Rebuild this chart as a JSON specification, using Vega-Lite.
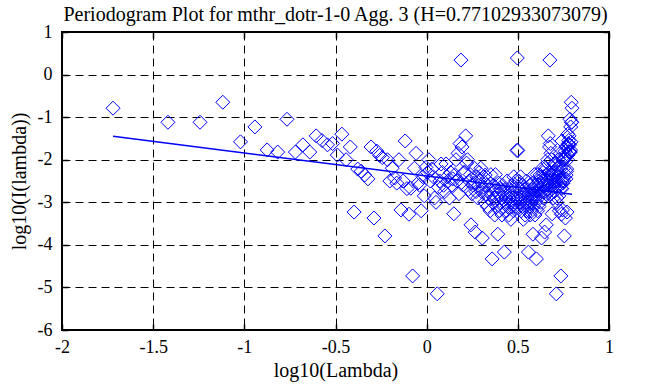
{
"$schema":"https://vega.github.io/schema/vega-lite/v6.json",
"width":547,"height":298,
"autosize":{"type":"none"},
"padding":{"left":62,"top":32,"right":44,"bottom":57},
"background":"white",
"title":{"text":"Periodogram Plot for mthr_dotr-1-0 Agg. 3 (H=0.77102933073079)","font":"Liberation Serif","fontSize":20,"fontWeight":"normal","color":"black","anchor":"middle","baseline":"alphabetic","offset":0,"dy":18},
"config":{"view":{"stroke":"black","strokeWidth":2}},
"datasets":{
"pts":[
{"x":-1.720,"y":-0.79},{"x":-1.419,"y":-1.12},{"x":-1.243,"y":-1.12},{"x":-1.118,"y":-0.65},{"x":-1.021,"y":-1.58},{"x":-0.942,"y":-1.23},{"x":-0.875,"y":-1.77},{"x":-0.817,"y":-1.82},{"x":-0.766,"y":-1.05},{"x":-0.720,"y":-1.82},
{"x":-0.679,"y":-1.65},{"x":-0.641,"y":-1.82},{"x":-0.606,"y":-1.44},{"x":-0.574,"y":-1.55},{"x":-0.544,"y":-1.65},{"x":-0.516,"y":-1.62},{"x":-0.490,"y":-1.89},{"x":-0.465,"y":-1.40},{"x":-0.442,"y":-2.00},{"x":-0.419,"y":-1.70},
{"x":-0.398,"y":-3.23},{"x":-0.378,"y":-2.22},{"x":-0.359,"y":-2.27},{"x":-0.340,"y":-2.36},{"x":-0.322,"y":-2.45},{"x":-0.305,"y":-1.70},{"x":-0.289,"y":-3.37},{"x":-0.273,"y":-1.80},{"x":-0.258,"y":-1.90},{"x":-0.243,"y":-1.95},
{"x":-0.229,"y":-3.79},{"x":-0.215,"y":-2.00},{"x":-0.202,"y":-2.50},{"x":-0.189,"y":-2.20},{"x":-0.176,"y":-2.43},{"x":-0.164,"y":-2.55},{"x":-0.152,"y":-2.00},{"x":-0.141,"y":-3.18},{"x":-0.129,"y":-2.50},{"x":-0.118,"y":-1.56},
{"x":-0.108,"y":-2.68},{"x":-0.097,"y":-3.28},{"x":-0.087,"y":-2.67},{"x":-0.077,"y":-4.73},{"x":-0.067,"y":-2.20},{"x":-0.058,"y":-1.85},{"x":-0.048,"y":-2.55},{"x":-0.039,"y":-2.60},{"x":-0.030,"y":-3.20},{"x":-0.021,"y":-2.40},
{"x":-0.013,"y":-2.85},{"x":-0.004,"y":-2.18},{"x":0.004,"y":-2.30},{"x":0.012,"y":-2.00},{"x":0.020,"y":-2.50},{"x":0.028,"y":-2.22},{"x":0.036,"y":-2.40},{"x":0.043,"y":-2.90},{"x":0.051,"y":-3.00},{"x":0.058,"y":-5.15},
{"x":0.065,"y":-2.65},{"x":0.072,"y":-2.50},{"x":0.079,"y":-2.10},{"x":0.086,"y":-2.30},{"x":0.093,"y":-2.60},{"x":0.099,"y":-2.75},{"x":0.106,"y":-2.10},{"x":0.112,"y":-2.40},{"x":0.119,"y":-2.50},{"x":0.125,"y":-2.90},
{"x":0.131,"y":-2.30},{"x":0.137,"y":-2.60},{"x":0.143,"y":-2.45},{"x":0.149,"y":-3.27},{"x":0.155,"y":-2.35},{"x":0.161,"y":-2.00},{"x":0.166,"y":-2.50},{"x":0.172,"y":-1.85},{"x":0.177,"y":-2.80},{"x":0.183,"y":-1.62},
{"x":0.188,"y":0.34},{"x":0.194,"y":-1.70},{"x":0.199,"y":-2.60},{"x":0.204,"y":-2.30},{"x":0.209,"y":-2.30},{"x":0.214,"y":-1.44},{"x":0.219,"y":-2.08},{"x":0.224,"y":-2.00},{"x":0.229,"y":-2.70},{"x":0.234,"y":-2.50},
{"x":0.239,"y":-2.35},{"x":0.243,"y":-3.53},{"x":0.248,"y":-2.80},{"x":0.253,"y":-2.60},{"x":0.257,"y":-2.55},{"x":0.262,"y":-2.20},{"x":0.266,"y":-3.70},{"x":0.271,"y":-2.75},{"x":0.275,"y":-2.40},{"x":0.280,"y":-2.90},
{"x":0.284,"y":-2.60},{"x":0.288,"y":-2.30},{"x":0.293,"y":-2.50},{"x":0.297,"y":-2.20},{"x":0.301,"y":-2.75},{"x":0.305,"y":-3.84},{"x":0.309,"y":-2.65},{"x":0.313,"y":-2.40},{"x":0.317,"y":-3.00},{"x":0.321,"y":-2.36},
{"x":0.325,"y":-2.80},{"x":0.329,"y":-2.60},{"x":0.333,"y":-3.10},{"x":0.337,"y":-2.50},{"x":0.340,"y":-2.90},{"x":0.344,"y":-2.70},{"x":0.348,"y":-3.20},{"x":0.352,"y":-2.35},{"x":0.355,"y":-2.80},{"x":0.359,"y":-4.33},
{"x":0.362,"y":-3.00},{"x":0.366,"y":-2.60},{"x":0.370,"y":-2.90},{"x":0.373,"y":-3.30},{"x":0.377,"y":-2.35},{"x":0.380,"y":-2.70},{"x":0.384,"y":-3.10},{"x":0.387,"y":-2.90},{"x":0.390,"y":-3.75},{"x":0.394,"y":-2.55},
{"x":0.397,"y":-2.80},{"x":0.400,"y":-3.20},{"x":0.404,"y":-2.70},{"x":0.407,"y":-3.00},{"x":0.410,"y":-2.90},{"x":0.413,"y":-3.30},{"x":0.416,"y":-2.60},{"x":0.420,"y":-3.10},{"x":0.423,"y":-2.80},{"x":0.426,"y":-4.17},
{"x":0.429,"y":-2.70},{"x":0.432,"y":-3.00},{"x":0.435,"y":-2.90},{"x":0.438,"y":-3.20},{"x":0.441,"y":-2.50},{"x":0.444,"y":-3.10},{"x":0.447,"y":-2.80},{"x":0.450,"y":-3.30},{"x":0.453,"y":-2.90},{"x":0.456,"y":-2.70},
{"x":0.459,"y":-3.00},{"x":0.462,"y":-3.40},{"x":0.464,"y":-2.80},{"x":0.467,"y":-3.10},{"x":0.470,"y":-2.60},{"x":0.473,"y":-2.90},{"x":0.476,"y":-3.20},{"x":0.478,"y":-2.40},{"x":0.481,"y":-3.00},{"x":0.484,"y":-2.70},
{"x":0.487,"y":-3.10},{"x":0.489,"y":-2.50},{"x":0.492,"y":-2.90},{"x":0.495,"y":-1.78},{"x":0.497,"y":0.39},
{"x":0.500,"y":-1.78},{"x":0.502,"y":-2.90},{"x":0.505,"y":-2.50},{"x":0.508,"y":-3.10},{"x":0.510,"y":-2.70},{"x":0.513,"y":-3.00},{"x":0.515,"y":-2.40},{"x":0.518,"y":-3.20},{"x":0.520,"y":-2.90},{"x":0.523,"y":-2.60},
{"x":0.525,"y":-3.10},{"x":0.528,"y":-2.80},{"x":0.530,"y":-3.40},{"x":0.533,"y":-3.00},{"x":0.535,"y":-2.70},{"x":0.537,"y":-2.90},{"x":0.540,"y":-3.30},{"x":0.542,"y":-2.80},{"x":0.545,"y":-3.10},{"x":0.547,"y":-2.50},
{"x":0.549,"y":-3.20},{"x":0.552,"y":-2.90},{"x":0.554,"y":-3.00},{"x":0.556,"y":-2.70},{"x":0.558,"y":-4.17},{"x":0.561,"y":-2.80},{"x":0.563,"y":-3.10},{"x":0.565,"y":-2.60},{"x":0.568,"y":-3.30},{"x":0.570,"y":-2.90},
{"x":0.572,"y":-3.00},{"x":0.574,"y":-2.70},{"x":0.576,"y":-3.20},{"x":0.579,"y":-2.80},{"x":0.581,"y":-2.55},{"x":0.583,"y":-3.75},{"x":0.585,"y":-2.90},{"x":0.587,"y":-3.10},{"x":0.589,"y":-2.70},{"x":0.591,"y":-2.35},
{"x":0.594,"y":-3.30},{"x":0.596,"y":-2.90},{"x":0.598,"y":-2.60},{"x":0.600,"y":-3.00},{"x":0.602,"y":-4.33},{"x":0.604,"y":-2.80},{"x":0.606,"y":-2.35},{"x":0.608,"y":-3.20},{"x":0.610,"y":-2.70},{"x":0.612,"y":-2.90},
{"x":0.614,"y":-2.50},{"x":0.616,"y":-3.10},{"x":0.618,"y":-2.60},{"x":0.620,"y":-2.80},{"x":0.622,"y":-2.36},{"x":0.624,"y":-3.00},{"x":0.626,"y":-2.40},{"x":0.628,"y":-2.65},{"x":0.630,"y":-3.84},{"x":0.632,"y":-2.75},
{"x":0.634,"y":-2.20},{"x":0.636,"y":-2.50},{"x":0.638,"y":-2.30},{"x":0.640,"y":-2.60},{"x":0.641,"y":-2.90},{"x":0.643,"y":-2.40},{"x":0.645,"y":-2.75},{"x":0.647,"y":-3.70},{"x":0.649,"y":-2.20},{"x":0.651,"y":-2.55},
{"x":0.653,"y":-2.60},{"x":0.654,"y":-2.80},{"x":0.656,"y":-3.53},{"x":0.658,"y":-2.35},{"x":0.660,"y":-2.50},{"x":0.662,"y":-2.70},{"x":0.664,"y":-2.00},{"x":0.665,"y":-2.08},{"x":0.667,"y":-1.44},{"x":0.669,"y":-2.30},
{"x":0.671,"y":-2.30},{"x":0.672,"y":-2.60},{"x":0.674,"y":-1.70},{"x":0.676,"y":0.34},{"x":0.678,"y":-1.62},{"x":0.679,"y":-2.80},{"x":0.681,"y":-1.85},{"x":0.683,"y":-2.50},{"x":0.685,"y":-2.00},{"x":0.686,"y":-2.35},
{"x":0.688,"y":-3.27},{"x":0.690,"y":-2.45},{"x":0.691,"y":-2.60},{"x":0.693,"y":-2.30},{"x":0.695,"y":-2.90},{"x":0.696,"y":-2.50},{"x":0.698,"y":-2.40},{"x":0.700,"y":-2.10},{"x":0.701,"y":-2.75},{"x":0.703,"y":-2.60},
{"x":0.705,"y":-2.30},{"x":0.706,"y":-2.10},{"x":0.708,"y":-2.50},{"x":0.709,"y":-2.65},{"x":0.711,"y":-5.15},{"x":0.713,"y":-3.00},{"x":0.714,"y":-2.90},{"x":0.716,"y":-2.40},{"x":0.717,"y":-2.22},{"x":0.719,"y":-2.50},
{"x":0.721,"y":-2.00},{"x":0.722,"y":-2.30},{"x":0.724,"y":-2.18},{"x":0.725,"y":-2.85},{"x":0.727,"y":-2.40},{"x":0.728,"y":-3.20},{"x":0.730,"y":-2.60},{"x":0.731,"y":-2.55},{"x":0.733,"y":-1.85},{"x":0.735,"y":-2.20},
{"x":0.736,"y":-4.73},{"x":0.738,"y":-2.67},{"x":0.739,"y":-3.28},{"x":0.741,"y":-2.68},{"x":0.742,"y":-1.56},{"x":0.744,"y":-2.50},{"x":0.745,"y":-3.18},{"x":0.747,"y":-2.00},{"x":0.748,"y":-2.55},{"x":0.750,"y":-2.43},
{"x":0.751,"y":-2.20},{"x":0.752,"y":-2.50},{"x":0.754,"y":-2.00},{"x":0.755,"y":-3.79},{"x":0.757,"y":-1.95},{"x":0.758,"y":-1.90},{"x":0.760,"y":-1.80},{"x":0.761,"y":-3.37},{"x":0.763,"y":-1.70},{"x":0.764,"y":-2.45},
{"x":0.765,"y":-2.36},{"x":0.767,"y":-2.27},{"x":0.768,"y":-2.22},{"x":0.770,"y":-3.23},{"x":0.771,"y":-1.70},{"x":0.772,"y":-2.00},{"x":0.774,"y":-1.40},{"x":0.775,"y":-1.89},{"x":0.777,"y":-1.62},{"x":0.778,"y":-1.65},
{"x":0.779,"y":-1.55},{"x":0.781,"y":-1.44},{"x":0.782,"y":-1.82},{"x":0.784,"y":-1.65},{"x":0.785,"y":-1.82},{"x":0.786,"y":-1.05},{"x":0.788,"y":-1.82},{"x":0.789,"y":-1.77},{"x":0.790,"y":-1.23},{"x":0.792,"y":-1.58},
{"x":0.793,"y":-0.65},{"x":0.794,"y":-1.12},{"x":0.796,"y":-1.12},{"x":0.797,"y":-0.79}
],
"fit":[{"x":-1.720,"y":-1.45},{"x":0.797,"y":-2.814}]
},
"layer":[
{"data":{"name":"pts"},
"mark":{"type":"point","shape":"diamond","filled":false,"stroke":"#0000ff","strokeWidth":1,"size":196,"opacity":1},
"encoding":{
"x":{"field":"x","type":"quantitative","scale":{"domain":[-2,1],"nice":false,"zero":false},
 "axis":{"orient":"bottom","values":[-2,-1.5,-1,-0.5,0,0.5,1],"labelExpr":"'' + datum.value","domain":false,"ticks":true,"tickSize":-6,"tickColor":"black","tickWidth":1.5,"grid":true,"gridColor":"black","gridOpacity":1,"gridDash":[8,5],"gridWidth":1,"labelFont":"Liberation Serif","labelFontSize":18,"labelColor":"black","labelPadding":14,"labelFlush":false,"title":"log10(Lambda)","titleFont":"Liberation Serif","titleFontSize":20,"titleFontWeight":"normal","titleColor":"black","titlePadding":4}},
"y":{"field":"y","type":"quantitative","scale":{"domain":[-6,1],"nice":false,"zero":false},
 "axis":{"orient":"left","values":[-6,-5,-4,-3,-2,-1,0,1],"labelExpr":"'' + datum.value","domain":false,"ticks":true,"tickSize":-6,"tickColor":"black","tickWidth":1.5,"grid":true,"gridColor":"black","gridOpacity":1,"gridDash":[8,5],"gridWidth":1,"labelFont":"Liberation Serif","labelFontSize":18,"labelColor":"black","labelPadding":16,"labelFlush":false,"title":"log10(I(lambda))","titleFont":"Liberation Serif","titleFontSize":20,"titleFontWeight":"normal","titleColor":"black","titlePadding":8}}
}},
{"data":{"name":"fit"},
"mark":{"type":"line","color":"#0000ff","strokeWidth":1.5},
"encoding":{
"x":{"field":"x","type":"quantitative","axis":{"orient":"top","values":[-2,-1.5,-1,-0.5,0,0.5,1],"labels":false,"domain":false,"ticks":true,"tickSize":-6,"tickColor":"black","tickWidth":1.5,"grid":false,"title":null}},
"y":{"field":"y","type":"quantitative","axis":{"orient":"right","values":[-6,-5,-4,-3,-2,-1,0,1],"labels":false,"domain":false,"ticks":true,"tickSize":-6,"tickColor":"black","tickWidth":1.5,"grid":false,"title":null}}
}}
],
"resolve":{"axis":{"x":"independent","y":"independent"}}
}
